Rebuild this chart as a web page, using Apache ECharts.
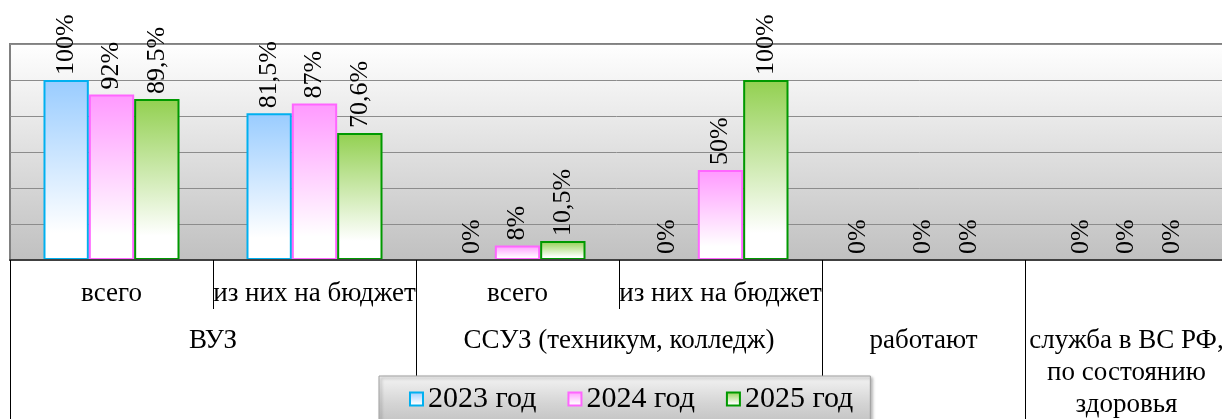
<!DOCTYPE html>
<html>
<head>
<meta charset="utf-8">
<script src="https://cdn.jsdelivr.net/npm/echarts@6/dist/echarts.min.js"></script>
<style>
  html, body { margin: 0; padding: 0; background: #ffffff; }
  #chart { width: 1222px; height: 419px; }
</style>
</head>
<body>
<div id="chart"></div>
<script>
// ---- data ----
const categories = ['всего', 'из них на бюджет', 'всего', 'из них на бюджет', '', ''];
// group labels on a 13-point boundary axis (half-category steps)
const groupLabels = ['', '', 'ВУЗ', '', '', '', 'ССУЗ (техникум, колледж)', '', '', 'работают', '', 'служба в ВС РФ,\nпо состоянию\nздоровья', ''];
const groupTickIdx = [0, 4, 8, 10, 12];
const seriesNames = ['2023 год', '2024 год', '2025 год'];
const s2023 = [100, 81.5, 0, 0, 0, 0];
const s2024 = [92, 87, 8, 50, 0, 0];
const s2025 = [89.5, 70.6, 10.5, 100, 0, 0];
const yTicks = [0, 20, 40, 60, 80, 100, 120];

// ---- styles ----
const FONT = '"Times New Roman", "Liberation Serif", serif';
const palette = [
  { border: '#00B0F0', top: '#99CCFF' },
  { border: '#FF66FF', top: '#FF99FF' },
  { border: '#009900', top: '#92D050' }
];
function grad(c) {
  return {
    type: 'linear', x: 0, y: 0, x2: 0, y2: 1,
    colorStops: [{ offset: 0, color: c }, { offset: 0.85, color: '#ffffff' }, { offset: 1, color: '#ffffff' }]
  };
}
const fmt = p => String(p.value).replace('.', ',') + '%';

function makeSeries(name, values, idx) {
  return {
    name: name,
    type: 'bar',
    barGap: '0%',
    barCategoryGap: '33%',
    data: values.map((v, i) => {
      // label nudges seen in the reference (overlap avoidance by the original tool)
      if (idx === 0 && i === 4) return { value: v, label: { offset: [0, -20] } };
      if (idx === 0 && i === 3) return { value: v, label: { offset: [0, -8] } };
      return v;
    }),
    itemStyle: {
      color: grad(palette[idx].top),
      borderColor: palette[idx].border,
      borderWidth: 2
    },
    label: {
      show: true,
      position: 'top',
      rotate: 90,
      align: 'left',
      verticalAlign: 'middle',
      distance: 5,
      fontFamily: FONT,
      fontSize: 26,
      color: '#000000',
      formatter: fmt
    }
  };
}

const chart = echarts.init(document.getElementById('chart'), null, { renderer: 'canvas' });
chart.setOption({
  animation: false,
  backgroundColor: '#ffffff',
  grid: {
    left: 10, top: 44, width: 1218, height: 216,
    containLabel: false,
    outerBoundsMode: 'none',
    show: true,
    borderColor: '#808080',
    borderWidth: 2,
    backgroundColor: {
      type: 'linear', x: 0, y: 0, x2: 0, y2: 1,
      colorStops: [{ offset: 0, color: '#ffffff' }, { offset: 1, color: '#c0c0c0' }]
    }
  },
  legend: {
    data: seriesNames,
    left: 379, top: 376,
    padding: [8, 17, 8, 30],
    itemGap: 31,
    itemWidth: 13, itemHeight: 13,
    icon: 'rect',
    textStyle: { fontFamily: FONT, fontSize: 30, color: '#000000' },
    backgroundColor: {
      type: 'linear', x: 0, y: 0, x2: 0, y2: 1,
      colorStops: [{ offset: 0, color: '#f4f4f4' }, { offset: 0.6, color: '#d4d4d4' }, { offset: 1, color: '#c4c4c4' }]
    },
    borderColor: '#a0a0a0',
    borderWidth: 1,
    shadowColor: 'rgba(0,0,0,0.35)',
    shadowBlur: 3,
    shadowOffsetX: 2,
    shadowOffsetY: 2
  },
  xAxis: [
    {
      type: 'category',
      data: categories,
      position: 'bottom',
      z: 3,
      axisLine: { show: true, lineStyle: { color: '#404040', width: 2 } },
      axisTick: { show: true, length: 49, lineStyle: { color: '#000000', width: 1 } },
      axisLabel: { interval: 0, margin: 18, fontFamily: FONT, fontSize: 27, lineHeight: 32, color: '#000000' },
      splitLine: { show: false }
    },
    {
      type: 'category',
      data: groupLabels.map((_, i) => String(i)),
      position: 'bottom',
      offset: 49,
      boundaryGap: false,
      axisLine: { show: false },
      axisTick: {
        show: true, length: 110,
        interval: (i) => groupTickIdx.indexOf(i) >= 0,
        lineStyle: { color: '#000000', width: 1 }
      },
      axisLabel: {
        interval: 0, margin: 16,
        fontFamily: FONT, fontSize: 27, lineHeight: 32, color: '#000000', align: 'center',
        formatter: (v, i) => groupLabels[i]
      },
      splitLine: { show: false }
    }
  ],
  yAxis: {
    type: 'value',
    min: yTicks[0], max: yTicks[yTicks.length - 1], interval: yTicks[1] - yTicks[0],
    axisLine: { show: false },
    axisTick: { show: false },
    axisLabel: { show: false },
    splitLine: { show: true, lineStyle: { color: '#8c8c8c', width: 1 } }
  },
  series: [
    makeSeries(seriesNames[0], s2023, 0),
    makeSeries(seriesNames[1], s2024, 1),
    makeSeries(seriesNames[2], s2025, 2)
  ]
});
</script>
</body>
</html>
